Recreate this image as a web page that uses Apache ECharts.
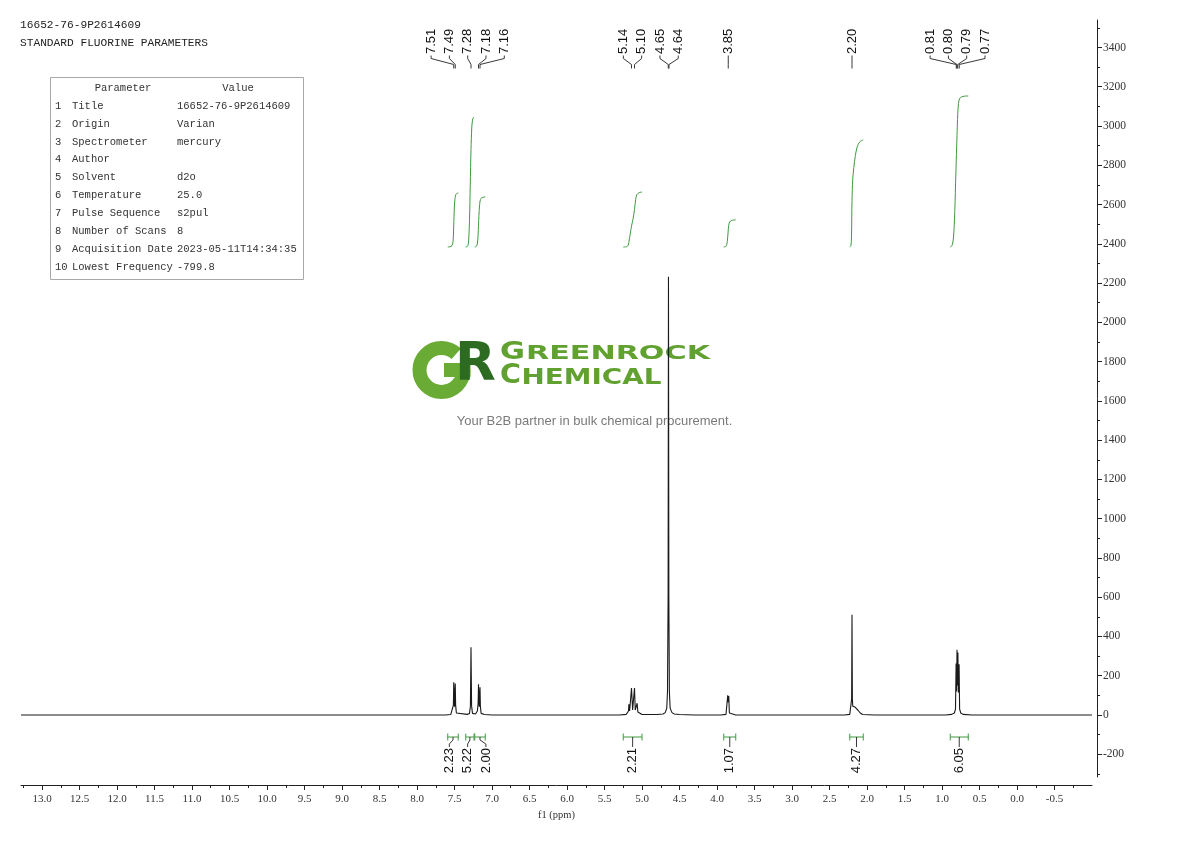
<!DOCTYPE html>
<html><head><meta charset="utf-8">
<script src="https://cdn.jsdelivr.net/npm/echarts@6/dist/echarts.min.js"></script>
<style>html,body{margin:0;padding:0;background:#fff}#c{width:1190px;height:841px}</style>
</head><body><div id="c"></div>
<script>
// ---------- data ----------
const headerLines = ['16652-76-9P2614609', 'STANDARD FLUORINE PARAMETERS'];
const paramNames = ['Title','Origin','Spectrometer','Author','Solvent','Temperature','Pulse Sequence','Number of Scans','Acquisition Date','Lowest Frequency'];
const paramValues = ['16652-76-9P2614609','Varian','mercury','','d2o','25.0','s2pul','8','2023-05-11T14:34:35','-799.8'];

// [ppm, intensity]
const spectrum = [
  [13.28,0],[7.62,0],[7.55,2],[7.525,10],[7.515,50],[7.51,166],[7.50,42],[7.49,160],[7.485,50],[7.475,10],[7.45,3],
  [7.33,3],[7.30,8],[7.288,45],[7.28,345],[7.272,45],[7.26,8],[7.22,5],[7.195,20],[7.185,60],[7.18,156],[7.17,42],[7.16,141],[7.155,45],[7.145,8],[7.10,2],[7.0,0],
  [5.30,0],[5.21,3],[5.19,8],[5.18,20],[5.175,55],[5.165,20],[5.15,30],[5.14,137],[5.125,25],[5.11,30],[5.10,137],[5.09,25],[5.075,18],[5.065,60],[5.055,15],[5.04,5],[5.0,2],
  [4.80,2],[4.72,5],[4.69,12],[4.67,35],[4.66,120],[4.652,600],[4.647,2232],[4.642,600],[4.635,120],[4.625,35],[4.60,12],[4.57,5],[4.50,2],[4.30,0],
  [3.95,0],[3.88,3],[3.865,10],[3.857,100],[3.85,65],[3.843,97],[3.835,10],[3.82,3],[3.75,0],
  [2.30,0],[2.23,3],[2.212,12],[2.205,80],[2.20,510],[2.195,80],[2.19,45],[2.16,40],[2.12,24],[2.09,10],[2.06,2],[1.90,0],
  [0.95,0],[0.87,3],[0.835,10],[0.82,30],[0.812,262],[0.806,120],[0.80,332],[0.794,150],[0.788,318],[0.782,115],[0.772,258],[0.765,30],[0.75,10],[0.72,3],[0.60,0],[-1.0,0]
];

const peakLabels = [7.51,7.49,7.28,7.18,7.16,5.14,5.10,4.65,4.64,3.85,2.20,0.81,0.80,0.79,0.77];

const integralRegions = [[7.59,7.45],[7.35,7.24],[7.23,7.09],[5.25,5.00],[3.91,3.75],[2.23,2.05],[0.89,0.65]];
const integralValues = ['2.23','5.22','2.00','2.21','1.07','4.27','6.05'];

const integral1 = [[7.59,2384],[7.56,2385],[7.535,2390],[7.52,2410],[7.512,2470],[7.505,2560],[7.495,2625],[7.485,2648],[7.47,2656],[7.45,2659]];
const integral2 = [[7.35,2384],[7.33,2386],[7.315,2400],[7.30,2520],[7.29,2700],[7.28,2880],[7.27,2990],[7.26,3030],[7.25,3042],[7.24,3046]];
const integral3 = [[7.23,2384],[7.21,2387],[7.195,2400],[7.185,2450],[7.175,2540],[7.165,2600],[7.155,2625],[7.135,2635],[7.09,2639]];
const integral4 = [[5.25,2384],[5.21,2385],[5.185,2392],[5.17,2420],[5.155,2455],[5.14,2490],[5.12,2525],[5.10,2575],[5.085,2625],[5.07,2650],[5.04,2660],[5.00,2664]];
const integral5 = [[3.91,2384],[3.885,2386],[3.87,2395],[3.858,2430],[3.848,2480],[3.838,2505],[3.82,2516],[3.79,2520],[3.75,2522]];
const integral6 = [[2.23,2384],[2.215,2390],[2.207,2430],[2.20,2620],[2.19,2730],[2.175,2790],[2.155,2850],[2.13,2895],[2.10,2918],[2.07,2926],[2.05,2929]];
const integral7 = [[0.89,2384],[0.875,2387],[0.86,2398],[0.845,2440],[0.83,2560],[0.815,2760],[0.80,2950],[0.79,3060],[0.78,3115],[0.765,3140],[0.74,3148],[0.70,3152],[0.65,3153]];
const integralCurves = [integral1,integral2,integral3,integral4,integral5,integral6,integral7];

const xMajorTicks = [13.0,12.5,12.0,11.5,11.0,10.5,10.0,9.5,9.0,8.5,8.0,7.5,7.0,6.5,6.0,5.5,5.0,4.5,4.0,3.5,3.0,2.5,2.0,1.5,1.0,0.5,0.0,-0.5];
const xMinorTicks = [13.25,12.75,12.25,11.75,11.25,10.75,10.25,9.75,9.25,8.75,8.25,7.75,7.25,6.75,6.25,5.75,5.25,4.75,4.25,3.75,3.25,2.75,2.25,1.75,1.25,0.75,0.25,-0.25,-0.75];
const yMajorTicks = [-200,0,200,400,600,800,1000,1200,1400,1600,1800,2000,2200,2400,2600,2800,3000,3200,3400];
const yMinorTicks = [-300,-100,100,300,500,700,900,1100,1300,1500,1700,1900,2100,2300,2500,2700,2900,3100,3300,3500];

// ---------- chart ----------
const AX = '#333';
const serifFont = '"Liberation Serif", "DejaVu Serif", serif';
const chart = echarts.init(document.getElementById('c'));
const X_MIN = -1.0, X_MAX = 13.28, Y_MIN = -316, Y_MAX = 3540;

const option = {
  animation: false,
  backgroundColor: '#fff',
  grid: { left: 21, right: 98, top: 20, bottom: 64 },
  xAxis: [
    { type: 'value', gridIndex: 0, min: X_MIN, max: X_MAX, inverse: true, position: 'bottom', offset: 8,
      name: 'f1 (ppm)', nameLocation: 'middle', nameGap: 25,
      nameTextStyle: { fontFamily: serifFont, fontSize: 10.5, color: AX },
      axisLine: { show: true, onZero: false, lineStyle: { color: '#222', width: 1 } },
      axisTick: { show: true, customValues: xMajorTicks, length: 5, lineStyle: { color: '#222' } },
      axisLabel: { show: true, customValues: xMajorTicks, formatter: v => v.toFixed(1), margin: 9,
        fontFamily: serifFont, fontSize: 11, color: AX },
      splitLine: { show: false } },
    { type: 'value', gridIndex: 0, min: X_MIN, max: X_MAX, inverse: true, position: 'bottom', offset: 8,
      axisLine: { show: false, onZero: false },
      axisTick: { show: true, customValues: xMinorTicks, length: 3, lineStyle: { color: '#222' } },
      axisLabel: { show: false }, splitLine: { show: false } }
  ],
  yAxis: [
    { type: 'value', gridIndex: 0, min: Y_MIN, max: Y_MAX, position: 'right', offset: 5,
      axisLine: { show: true, onZero: false, lineStyle: { color: '#222', width: 1 } },
      axisTick: { show: true, customValues: yMajorTicks, length: 5, lineStyle: { color: '#222' } },
      axisLabel: { show: true, customValues: yMajorTicks, formatter: v => String(v), margin: 6,
        fontFamily: serifFont, fontSize: 11.5, color: AX },
      splitLine: { show: false } },
    { type: 'value', gridIndex: 0, min: Y_MIN, max: Y_MAX, position: 'right', offset: 5,
      axisLine: { show: false, onZero: false },
      axisTick: { show: true, customValues: yMinorTicks, length: 3, lineStyle: { color: '#222' } },
      axisLabel: { show: false }, splitLine: { show: false } }
  ],
  series: [
    { type: 'line', xAxisIndex: 0, yAxisIndex: 0, data: spectrum, symbol: 'none', showSymbol: false,
      lineStyle: { color: '#1a1a1a', width: 1.1 }, z: 5, silent: true }
  ].concat(integralCurves.map(c => ({
      type: 'line', xAxisIndex: 0, yAxisIndex: 0, data: c, symbol: 'none', showSymbol: false, smooth: 0.3,
      lineStyle: { color: '#3f9a3f', width: 1 }, z: 4, silent: true })))
};
chart.setOption(option);

// ---------- annotations ----------
const toX = v => chart.convertToPixel({ xAxisIndex: 0 }, v);
function spread(cs, gap) {
  const groups = [];
  cs.forEach((c, i) => { const g = groups[groups.length - 1];
    if (g && c - cs[g[g.length - 1]] < gap) g.push(i); else groups.push([i]); });
  const place = g => { const m = g.reduce((s, i) => s + cs[i], 0) / g.length;
    return g.map((i, k) => m + (k - (g.length - 1) / 2) * gap); };
  let changed = true;
  while (changed) { changed = false;
    for (let j = 0; j < groups.length - 1; j++) {
      const a = place(groups[j]), b = place(groups[j + 1]);
      if (b[0] - a[a.length - 1] < gap - 0.01) { groups[j] = groups[j].concat(groups[j + 1]); groups.splice(j + 1, 1); changed = true; break; }
    } }
  const out = []; groups.forEach(g => place(g).forEach((p, k) => out[g[k]] = p)); return out;
}
function txt(o) {
  return { type: 'text', x: o.x, y: o.y, rotation: o.rotation || 0, scaleX: o.scaleX || 1, silent: true, z: o.z || 10,
    style: { text: o.text, font: o.font, fill: o.fill || '#222',
      align: o.align || 'left', textAlign: o.align || 'left',
      verticalAlign: o.va || 'middle', textVerticalAlign: o.va || 'middle' } };
}
function line(points, stroke, w) {
  return { type: 'polyline', silent: true, z: 10, shape: { points }, style: { stroke, lineWidth: w || 1, fill: null } };
}
const G = [];
const labelFont = '13px "Liberation Sans", Arial, sans-serif';

// top peak labels
const peakX = peakLabels.map(toX);
const peakLX = spread(peakX, 18.3);
peakLabels.forEach((p, i) => {
  const px = peakX[i], lx = peakLX[i];
  G.push(line([[lx, 55.5], [lx, 58.5], [px, 64.5], [px, 68.5]], '#222', 0.9));
  G.push(txt({ x: lx, y: 54, rotation: Math.PI / 2, text: p.toFixed(2), font: labelFont, fill: '#111', align: 'left' }));
});

// bottom integral brackets + labels
const GREEN = '#3f9a3f';
const brY = 737;
const centers = [];
integralRegions.forEach(([a, b]) => {
  const x1 = toX(a), x2 = toX(b);
  G.push(line([[x1, brY], [x2, brY]], GREEN, 1));
  G.push(line([[x1, brY - 3.5], [x1, brY + 3.5]], GREEN, 1));
  G.push(line([[x2, brY - 3.5], [x2, brY + 3.5]], GREEN, 1));
  centers.push((x1 + x2) / 2);
});
const intLX = spread(centers, 18.3);
integralValues.forEach((t, i) => {
  const c = centers[i], lx = intLX[i];
  G.push(line([[c, brY], [c, brY + 3], [lx, brY + 7], [lx, brY + 10]], '#222', 0.9));
  G.push(txt({ x: lx, y: brY + 11, rotation: Math.PI / 2, text: t, font: labelFont, fill: '#111', align: 'right' }));
});

// header text
const monoH = '11.2px "Liberation Mono", "DejaVu Sans Mono", monospace';
G.push(txt({ x: 20, y: 25, text: headerLines[0], font: monoH, fill: '#222' }));
G.push(txt({ x: 20, y: 43, text: headerLines[1], font: monoH, fill: '#222' }));

// parameter table
const monoT = '10.5px "Liberation Mono", "DejaVu Sans Mono", monospace';
G.push({ type: 'rect', silent: true, z: 8, shape: { x: 50.5, y: 77.5, width: 253, height: 202 },
  style: { fill: '#fff', stroke: '#a8a8a8', lineWidth: 1 } });
G.push(txt({ x: 123, y: 88, text: 'Parameter', font: monoT, fill: '#333', align: 'center' }));
G.push(txt({ x: 238, y: 88, text: 'Value', font: monoT, fill: '#333', align: 'center' }));
paramNames.forEach((n, i) => {
  const y = 106 + i * 17.9;
  G.push(txt({ x: 55, y, text: String(i + 1), font: monoT, fill: '#333' }));
  G.push(txt({ x: 72, y, text: n, font: monoT, fill: '#333' }));
  G.push(txt({ x: 177, y, text: paramValues[i], font: monoT, fill: '#333' }));
});

// watermark logo
const ctx = document.createElement('canvas').getContext('2d');
const tw = (t, f) => { ctx.font = f; return ctx.measureText(t).width; };
const LG = '#69ab34', DG = '#2d6b23', TG = '#60a130';
G.push({ type: 'arc', silent: true, z: 1, shape: { cx: 441.5, cy: 370, r: 22, startAngle: 0, endAngle: 5.45, clockwise: true },
  style: { stroke: LG, lineWidth: 14, fill: null } });
G.push({ type: 'rect', silent: true, z: 1, shape: { x: 444, y: 363, width: 26.5, height: 14 }, style: { fill: LG } });
G.push(txt({ x: 455, y: 366, text: 'R', font: 'bold 53px "DejaVu Sans", sans-serif', fill: DG, z: 2 }));
const fBig1 = 'bold 24.5px "DejaVu Sans", sans-serif', fSm1 = 'bold 20px "DejaVu Sans", sans-serif';
const fBig2 = 'bold 26px "DejaVu Sans", sans-serif', fSm2 = 'bold 21.5px "DejaVu Sans", sans-serif';
G.push(txt({ x: 500, y: 352.5, text: 'G', font: fBig1, fill: TG, scaleX: 25 / tw('G', fBig1), z: 2 }));
G.push(txt({ x: 526, y: 354, text: 'REENROCK', font: fSm1, fill: TG, scaleX: 184 / tw('REENROCK', fSm1), z: 2 }));
G.push(txt({ x: 500, y: 376.5, text: 'C', font: fBig2, fill: TG, scaleX: 21 / tw('C', fBig2), z: 2 }));
G.push(txt({ x: 521.5, y: 378, text: 'HEMICAL', font: fSm2, fill: TG, scaleX: 140 / tw('HEMICAL', fSm2), z: 2 }));
G.push(txt({ x: 594.5, y: 421, text: 'Your B2B partner in bulk chemical procurement.',
  font: '13px "Liberation Sans", Arial, sans-serif', fill: '#7a7a7a', align: 'center', z: 2 }));

chart.setOption({ graphic: { elements: G } });
</script>
</body></html>
